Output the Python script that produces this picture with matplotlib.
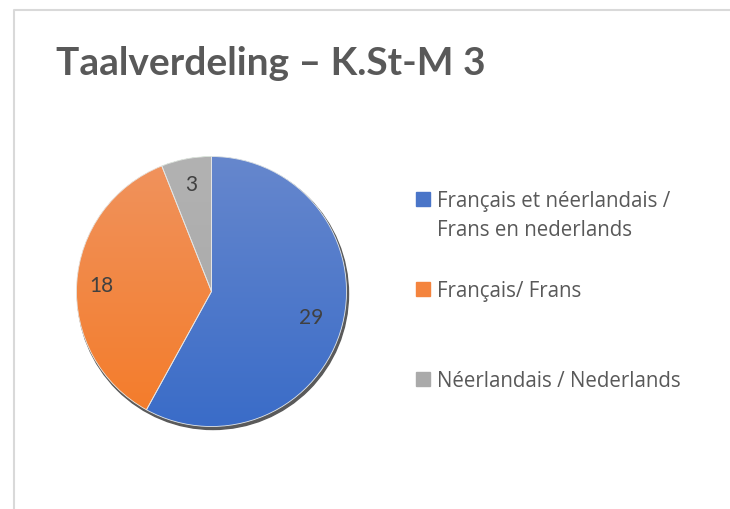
import numpy as np
import matplotlib
matplotlib.use('Agg')
import matplotlib.pyplot as plt
from matplotlib.patches import Rectangle, Circle, Wedge
from matplotlib.colors import LinearSegmentedColormap

# Data
categories = ['Français et néerlandais /\nFrans en nederlands', 'Français/ Frans', 'Néerlandais / Nederlands']
values = [29, 18, 3]
title = 'Taalverdeling – K.St-M 3'
top_colors = ['#6687cd', '#f0935e', '#b2b2b2']    # gradient top
bottom_colors = ['#3a6cc8', '#f47b28', '#a6a6a6']  # gradient bottom
legend_colors = ['#4a75c8', '#f4843e', '#aaaaaa']
label_dist = [0.76, 0.82, 0.81]  # data label distance from centre (fraction of radius)

plt.rcParams['font.family'] = ['Lato', 'DejaVu Sans']

W, H = 730, 510
fig = plt.figure(figsize=(W/100, H/100), dpi=100)
ax = fig.add_axes([0, 0, 1, 1])

cx, cy, r = 211.5, H - 292.5, 135

# shadow
ax.add_patch(Circle((cx + 1.5, cy - 2.5), r + 0.5, color='#5a5a5a', zorder=1))

total = sum(values)
wedges, texts, autotexts = ax.pie(values, center=(cx, cy), radius=r, startangle=90, counterclock=False,
                                  autopct=lambda p: '%d' % round(p * total / 100),
                                  frame=True, wedgeprops=dict(linewidth=0),
                                  textprops=dict(fontsize=15, color='#404040'))
ax.set_xlim(0, W)
ax.set_ylim(0, H)
ax.set_aspect('equal')
ax.axis('off')

# chart frame (light grey)
ax.plot([13.5, 13.5, W], [0, H - 10.5, H - 10.5], color='#d9d9d9', lw=1.5, solid_capstyle='butt')

# gradient fills clipped to each wedge
grad = np.linspace(0, 1, 256).reshape(-1, 1)
for w, c0, c1, d, t in zip(wedges, top_colors, bottom_colors, label_dist, autotexts):
    w.set_zorder(2)
    cmap = LinearSegmentedColormap.from_list('g', [c1, c0])
    im = ax.imshow(grad, cmap=cmap, origin='lower', extent=[cx - r, cx + r, cy - r, cy + r],
                   aspect='auto', zorder=2.5, interpolation='bicubic')
    im.set_clip_path(w)
    ax.add_patch(Wedge(w.center, w.r, w.theta1, w.theta2, facecolor='none',
                       edgecolor='#e6e6e6', lw=0.6, zorder=3))
    mid = np.radians((w.theta1 + w.theta2) / 2)
    t.set_position((cx + d * r * np.cos(mid), cy + d * r * np.sin(mid)))
    t.set_zorder(4)

# title
ax.text(56, H - 75, title, fontsize=28, fontweight='bold', color='#595959', ha='left', va='baseline')

# legend
leg_y = [H - 199.5, H - 289.5, H - 379.5]
for lab, col, y in zip(categories, legend_colors, leg_y):
    ax.add_patch(Rectangle((416, y - 7), 14, 14, color=col))
    lines = lab.split('\n')
    for i, line in enumerate(lines):
        ax.text(437, y - 7.5 - 28.5 * i, line, fontsize=14.8, color='#595959', ha='left',
                va='baseline', family=['Open Sans', 'DejaVu Sans'])

fig.savefig('out.png', dpi=100)
